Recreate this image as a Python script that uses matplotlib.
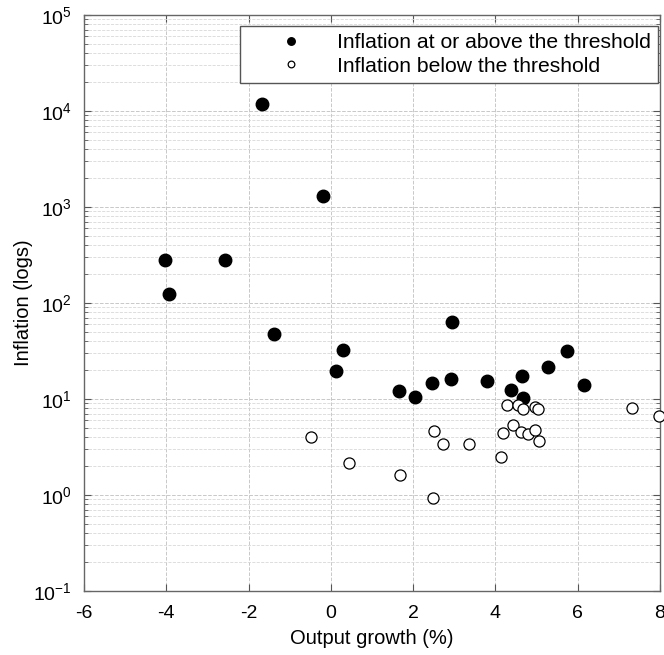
import matplotlib
matplotlib.use("Agg")
import matplotlib.pyplot as plt
import numpy as np

plt.rcParams["font.family"] = ["Liberation Sans", "DejaVu Sans"]
plt.rcParams["mathtext.fontset"] = "custom"
plt.rcParams["mathtext.rm"] = "Liberation Sans"
plt.rcParams["mathtext.it"] = "Liberation Sans"
plt.rcParams["axes.unicode_minus"] = False

# inflation at or above the threshold
above_growth = [-4.04, -3.93, -2.57, -1.67, -1.37, -0.20, 0.13, 0.29, 1.66, 2.05,
                2.47, 2.92, 2.95, 3.80, 4.37, 4.65, 4.68, 5.28, 5.75, 6.16]
above_infl = [279, 123, 279, 11830, 47.5, 1290, 19.7, 32.2, 12.1, 10.4,
              14.7, 16.0, 63.4, 15.3, 12.5, 17.2, 10.2, 21.5, 31.6, 14.0]

# inflation below the threshold
below_growth = [-0.49, 0.43, 1.69, 2.49, 2.51, 2.72, 3.36, 4.14, 4.18, 4.27, 4.43,
                4.55, 4.61, 4.68, 4.80, 4.96, 4.97, 5.04, 5.07, 7.32, 7.98]
below_infl = [3.99, 2.17, 1.60, 0.93, 4.60, 3.37, 3.37, 2.51, 4.43, 8.59, 5.40,
              8.70, 4.50, 7.93, 4.29, 4.72, 8.19, 7.82, 3.68, 8.06, 6.61]

fig = plt.figure(figsize=(6.64, 6.55), dpi=100)
ax = fig.add_axes([0.1265, 0.0977, 0.994 - 0.1265, 0.977 - 0.0977])

ax.plot(above_growth, above_infl, "o", color="black", markersize=9,
        label="Inflation at or above the threshold", clip_on=False, zorder=3)
ax.plot(below_growth, below_infl, "o", markerfacecolor="white", markeredgecolor="black",
        markersize=8, markeredgewidth=0.9, label="Inflation below the threshold",
        clip_on=False, zorder=3)

ax.set_yscale("log")
ax.set_xlim(-6, 8)
ax.set_ylim(0.1, 1e5)
ax.set_xticks(np.arange(-6, 9, 2))
ax.set_yticks([0.1, 1, 10, 100, 1000, 1e4, 1e5])

ax.grid(True, which="major", color="#c8c8c8", linestyle="--", linewidth=0.7)
ax.grid(True, which="minor", axis="y", color="#d8d8d8", linestyle="--", linewidth=0.6)

ax.tick_params(which="both", direction="in", top=True, right=True, labelsize=14,
               color="#555555")
ax.tick_params(which="major", length=5)
ax.tick_params(which="minor", length=3)
ax.tick_params(axis="x", pad=10)
ax.tick_params(axis="y", pad=9)
for s in ax.spines.values():
    s.set_color("#666666")
    s.set_linewidth(1.0)

ax.set_xlabel("Output growth (%)", fontsize=14.5, labelpad=5)
ax.set_ylabel("Inflation (logs)", fontsize=14.5, labelpad=0)

leg = ax.legend(loc="upper right", bbox_to_anchor=(658 / 664, 1 - 26 / 655),
                bbox_transform=fig.transFigure, borderaxespad=0,
                fontsize=15.2, fancybox=False, edgecolor="#555555", framealpha=1,
                borderpad=0.35, handlelength=4.2, handletextpad=0.05,
                labelspacing=0.2, markerscale=0.6)
leg.get_frame().set_linewidth(1.0)

fig.savefig("out.png", dpi=100)
